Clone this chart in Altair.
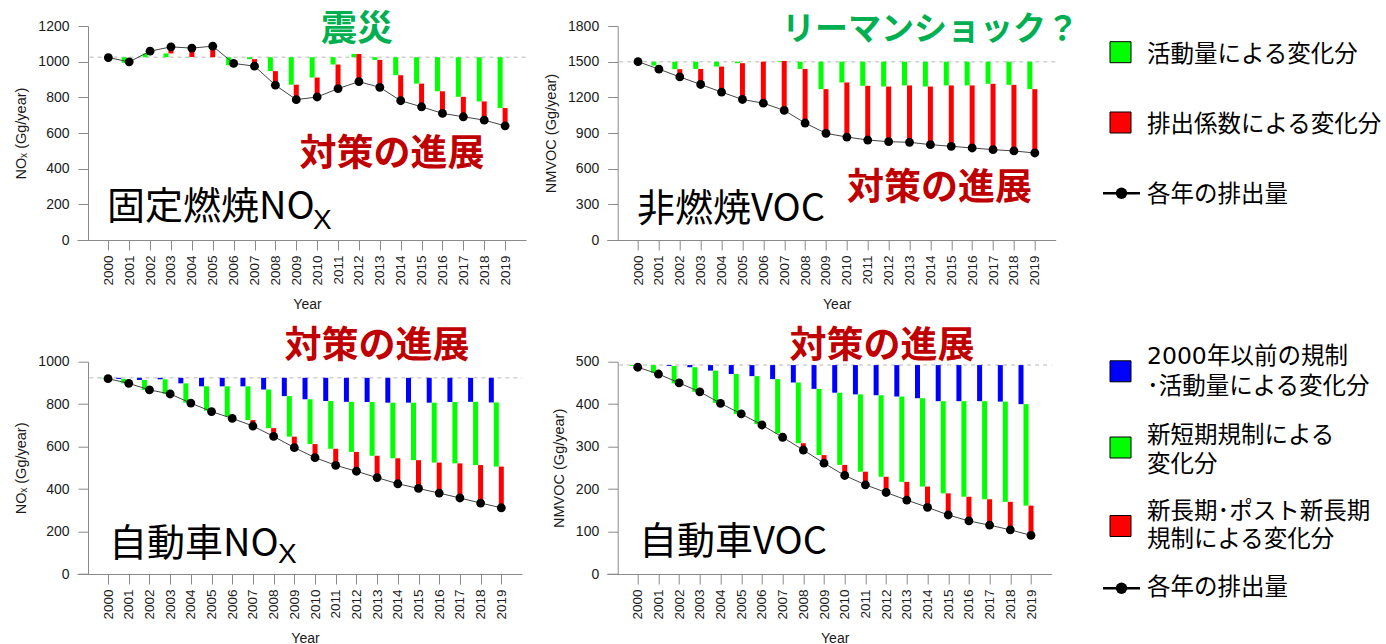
import altair as alt
import pandas as pd

years = list(range(2000, 2020))

# 固定燃焼NOx (Gg/year): emissions and level after the activity-driven change
stat_base = 1025
stat_emis = [1023, 999, 1059, 1083, 1076, 1087, 990, 975, 868, 787,
             802, 849, 888, 856, 781, 747, 710, 691, 672, 640]
stat_act = [1025, 993, 1045, 1046, 1026, 1025, 980, 1014, 947, 871,
            911, 984, 1043, 1010, 924, 877, 834, 803, 777, 740]

# 非燃焼VOC (Gg/year)
evap_base = 1500
evap_emis = [1500, 1437, 1372, 1308, 1244, 1182, 1151, 1090, 984, 897,
             866, 841, 827, 822, 802, 788, 774, 760, 749, 732]
evap_act = [1500, 1467, 1437, 1439, 1459, 1487, 1500, 1506, 1439, 1269,
            1325, 1297, 1291, 1300, 1291, 1300, 1300, 1314, 1305, 1269]

# 自動車NOx (Gg/year): levels after pre-2000 rules, after short-term rules
cnox_base = 924
cnox_emis = [920, 898, 867, 848, 805, 765, 733, 697, 648, 595,
             548, 512, 484, 454, 425, 403, 381, 358, 334, 312]
cnox_pre = [924, 919, 914, 917, 898, 884, 884, 884, 869, 838,
            823, 815, 811, 810, 807, 807, 807, 810, 811, 808]
cnox_short = [922, 898, 867, 848, 807, 769, 742, 725, 687, 647,
              612, 590, 575, 557, 545, 536, 525, 521, 513, 506]

# 自動車VOC (Gg/year)
cvoc_base = 492
cvoc_emis = [487, 471, 450, 429, 402, 377, 351, 322, 292, 261,
             232, 210, 192, 174, 157, 139, 125, 115, 104, 91]
cvoc_pre = [492, 492, 490, 487, 479, 471, 466, 459, 451, 436,
            427, 423, 421, 418, 414, 407, 407, 407, 406, 400]
cvoc_short = [490, 473, 449, 429, 403, 377, 353, 331, 308, 280,
              257, 241, 229, 217, 206, 190, 182, 176, 170, 161]

GREEN, RED, BLUE = "#00ff00", "#ff0000", "#0000ff"
NOTE_GREEN, NOTE_RED = "#00b050", "#c00000"
CJK = "Noto Sans CJK JP"
LATIN = "Liberation Sans"
AXIS_GREY = "#8a8a8a"
X_DOMAIN = [1998.5, 2020]

# panel origins on the page (plot-area top-left corners)
O1, O2 = (77, 26), (606.7, 26)
O3, O4 = (77, 361.7), (606.7, 361.7)
TOP_W, TOP_H = 449, 214
BOT_W, BOT_H = 445, 212.3

ONE = pd.DataFrame({"k": [0]})


def encoders(ymax, ystep, ytitle, title_x):
    xs = alt.Scale(domain=X_DOMAIN, nice=False, zero=False)
    ys = alt.Scale(domain=[0, ymax], nice=False, zero=True)
    xa = alt.Axis(values=years, format="d", labelAngle=-90, title="Year",
                  tickSize=10, labelPadding=5, labelFontSize=13.5,
                  titleX=title_x, titleY=64.5, titleBaseline="middle",
                  titleFontSize=14, grid=False, labelFlush=False,
                  labelOverlap=False)
    ya = alt.Axis(values=list(range(0, ymax + 1, ystep)), format="d",
                  title=ytitle, offset=-11, tickSize=10, labelPadding=9,
                  labelFontSize=14, titleFontSize=14.5, titlePadding=9,
                  grid=False, labelFlush=False, labelOverlap=False)

    def xe(field):
        return alt.X(f"{field}:Q", scale=xs, axis=xa)

    def ye(field):
        return alt.Y(f"{field}:Q", scale=ys, axis=ya)

    return xe, ye


def text_at(text, x, y, origin, size, color="black", weight="normal",
            align="left", font=CJK):
    return alt.Chart(ONE).mark_text(
        text=text, font=font, fontSize=size, fontWeight=weight,
        color=color, align=align, baseline="middle"
    ).encode(x=alt.value(x - origin[0]), y=alt.value(y - origin[1]))


def panel(base, emis, levels, ymax, ystep, ytitle, title_x):
    """levels: list of (colour, x-offset, level-list) from top to bottom."""
    xe, ye = encoders(ymax, ystep, ytitle, title_x)
    base_df = pd.DataFrame({"x0": [1999.1], "x1": [2020], "b": [base]})
    layers = [
        alt.Chart(base_df).mark_rule(color="#d0d0d0", strokeWidth=1.5,
                                     strokeDash=[4, 4])
        .encode(x=xe("x0"), x2="x1", y=ye("b"))
    ]
    prev = [base] * len(years)
    segs = levels + [(RED, 0, emis)]
    for colour, off, lev in segs:
        df = pd.DataFrame({"year": years, "top": prev, "bottom": lev})
        layers.append(
            alt.Chart(df).mark_rule(color=colour, strokeWidth=5, xOffset=off)
            .encode(x=xe("year"), y=ye("top"), y2="bottom")
        )
        prev = lev
    pts = pd.DataFrame({"year": years, "emis": emis})
    layers.append(alt.Chart(pts).mark_line(color="#444444", strokeWidth=1)
                  .encode(x=xe("year"), y=ye("emis")))
    layers.append(alt.Chart(pts).mark_circle(color="black", size=78, opacity=1)
                  .encode(x=xe("year"), y=ye("emis")))
    return layers


def legend_box(origin, colour, y):
    return alt.Chart(ONE).mark_square(
        size=441, fill=colour, stroke="black", strokeWidth=1, opacity=1
    ).encode(x=alt.value(1120.5 - origin[0]), y=alt.value(y - origin[1]))


def legend_line(origin, y):
    return [
        alt.Chart(ONE).mark_rule(color="black", strokeWidth=2.5).encode(
            x=alt.value(1103 - origin[0]), x2=alt.value(1140 - origin[0]),
            y=alt.value(y - origin[1])),
        alt.Chart(ONE).mark_circle(color="black", size=130, opacity=1).encode(
            x=alt.value(1121.5 - origin[0]), y=alt.value(y - origin[1])),
    ]


LEG = 23.5
BIG = 38

# --- 固定燃焼NOx ---
p1_layers = panel(stat_base, stat_emis, [(GREEN, -5, stat_act)],
                  1200, 200, "NOₓ (Gg/year)", 230)
p1_layers += [
    alt.Chart(ONE).mark_rule(opacity=0).encode(
        x=alt.value(-O1[0]), x2=alt.value(-O1[0] + 1),
        y=alt.value(-O1[1]), y2=alt.value(-O1[1] + 1)),
    text_at("震災", 357, 30, O1, 36, NOTE_GREEN, "bold", "center"),
    text_at("対策の進展", 392, 155, O1, 37, NOTE_RED, "bold", "center"),
    text_at("固定燃焼NO", 107, 208, O1, BIG),
    text_at("X", 313, 221, O1, 28, font=LATIN),
]
p1 = alt.layer(*p1_layers).properties(width=TOP_W, height=TOP_H)

# --- 非燃焼VOC ---
p2_layers = panel(evap_base, evap_emis, [(GREEN, -5, evap_act)],
                  1800, 300, "NMVOC (Gg/year)", 230)
p2_layers += [
    text_at("リーマンショック？", 782, 30, O2, 33, NOTE_GREEN, "bold"),
    text_at("対策の進展", 939.5, 189, O2, 37, NOTE_RED, "bold", "center"),
    text_at("非燃焼VOC", 637, 210, O2, BIG),
    legend_box(O2, GREEN, 52.2),
    text_at("活動量による変化分", 1147, 55, O2, LEG),
    legend_box(O2, RED, 122.5),
    text_at("排出係数による変化分", 1147, 125, O2, LEG),
    *legend_line(O2, 193.3),
    text_at("各年の排出量", 1147, 195, O2, LEG),
]
p2 = alt.layer(*p2_layers).properties(width=TOP_W, height=TOP_H)

# --- 自動車NOx ---
p3_layers = panel(cnox_base, cnox_emis,
                  [(BLUE, -10, cnox_pre), (GREEN, -5, cnox_short)],
                  1000, 200, "NOₓ (Gg/year)", 228)
p3_layers += [
    text_at("対策の進展", 377, 347, O3, 37, NOTE_RED, "bold", "center"),
    text_at("自動車NO", 109, 545, O3, BIG),
    text_at("X", 278, 555, O3, 28, font=LATIN),
]
p3 = alt.layer(*p3_layers).properties(width=BOT_W, height=BOT_H)

# --- 自動車VOC ---
p4_layers = panel(cvoc_base, cvoc_emis,
                  [(BLUE, -10, cvoc_pre), (GREEN, -5, cvoc_short)],
                  500, 100, "NMVOC (Gg/year)", 228)
p4_layers += [
    text_at("対策の進展", 882, 347, O4, 37, NOTE_RED, "bold", "center"),
    text_at("自動車VOC", 639, 543, O4, BIG),
    legend_box(O4, BLUE, 371.3),
    text_at("2000", 1147, 357, O4, LEG, font="DejaVu Sans"),
    text_at("年以前の規制", 1207, 357, O4, LEG),
    text_at("･活動量による変化分", 1147, 387, O4, LEG),
    legend_box(O4, GREEN, 447.5),
    text_at("新短期規制による", 1147, 436, O4, LEG),
    text_at("変化分", 1147, 465, O4, LEG),
    legend_box(O4, RED, 526),
    text_at("新長期･ポスト新長期", 1147, 512, O4, LEG),
    text_at("規制による変化分", 1147, 540, O4, LEG),
    *legend_line(O4, 588.3),
    text_at("各年の排出量", 1147, 588.3, O4, LEG),
]
p4 = alt.layer(*p4_layers).properties(width=BOT_W, height=BOT_H)

chart = alt.concat(
    p1, p2, p3, p4, columns=2,
    spacing={"row": O3[1] - (O1[1] + TOP_H), "column": O2[0] - (O1[0] + TOP_W)},
    bounds="flush",
).properties(
    padding=0, autosize=alt.AutoSizeParams(type="pad"), background="white"
).configure_view(stroke=None).configure_axis(
    labelFont=LATIN, titleFont=LATIN, labelColor="#1a1a1a",
    titleColor="#1a1a1a", titleFontWeight="normal",
    domainColor=AXIS_GREY, tickColor=AXIS_GREY, domainWidth=1, tickWidth=1,
)

chart.save("out.html", embed_options={"renderer": "svg", "actions": False})
